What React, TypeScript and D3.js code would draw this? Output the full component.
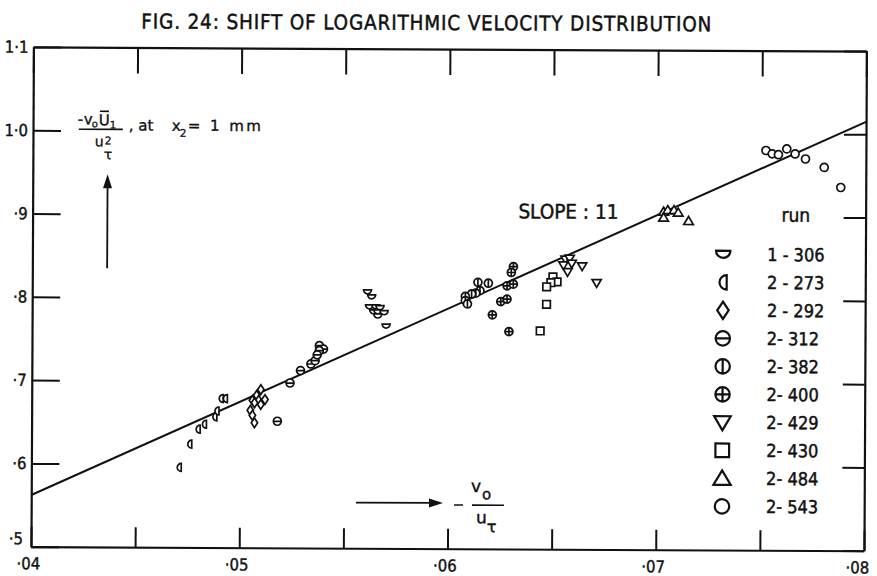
import React, { useEffect, useRef } from 'react';
import * as d3 from 'd3';

// ---------- data ----------
const X_DOMAIN = [0.04, 0.08];
const Y_DOMAIN = [0.5, 1.1];
const X_TICKS = [0.04, 0.045, 0.05, 0.055, 0.06, 0.065, 0.07, 0.075, 0.08];
const X_LABEL_VALUES = [0.04, 0.05, 0.06, 0.07, 0.08];
const X_TICK_LABELS = ['·04', '·05', '·06', '·07', '·08'];
const Y_TICKS = [0.5, 0.6, 0.7, 0.8, 0.9, 1.0, 1.1];
const Y_TICK_LABELS = ['·5', '·6', '·7', '·8', '·9', '1·0', '1·1'];

const RUN_IDS = ['1-306', '2-273', '2-292', '2-312', '2-382', '2-400', '2-429', '2-430', '2-484', '2-543'];
const RUN_LABELS = ['1 - 306', '2 - 273', '2 - 292', '2- 312', '2- 382', '2- 400', '2- 429', '2- 430', '2- 484', '2- 543'];
const RUN_SYMBOLS = ['semiDown', 'semiLeft', 'diamond', 'theta', 'phi', 'oplus', 'triDown', 'square', 'triUp', 'circle'];

const X_1306 = [0.0561, 0.0563, 0.0562, 0.0565, 0.0567, 0.0564, 0.0566, 0.0569, 0.0566, 0.0570];
const Y_1306 = [0.808, 0.802, 0.790, 0.790, 0.789, 0.784, 0.784, 0.783, 0.779, 0.767];
const X_2273 = [0.0471, 0.0476, 0.0480, 0.0483, 0.0488, 0.0489, 0.0491, 0.0493];
const Y_2273 = [0.596, 0.624, 0.642, 0.648, 0.657, 0.664, 0.679, 0.679];
const X_2292 = [0.0510, 0.0508, 0.0506, 0.0509, 0.0512, 0.0510, 0.0507, 0.0505, 0.0506, 0.0507];
const Y_2292 = [0.690, 0.683, 0.677, 0.677, 0.678, 0.672, 0.674, 0.665, 0.659, 0.650];
const X_2312 = [0.0524, 0.0518, 0.0529, 0.0534, 0.0536, 0.0538, 0.0540, 0.0538, 0.0537];
const Y_2312 = [0.698, 0.652, 0.713, 0.721, 0.725, 0.743, 0.739, 0.737, 0.732];
const X_2382 = [0.0614, 0.0619, 0.0615, 0.0613, 0.0611, 0.0608, 0.0608, 0.0609];
const Y_2382 = [0.820, 0.819, 0.810, 0.807, 0.806, 0.803, 0.798, 0.794];
const X_2400 = [0.0631, 0.0630, 0.0628, 0.0631, 0.0625, 0.0628, 0.0621, 0.0629];
const Y_2400 = [0.839, 0.832, 0.816, 0.818, 0.797, 0.800, 0.781, 0.761];
const X_2429 = [0.0656, 0.0658, 0.0659, 0.0655, 0.0657, 0.0664, 0.0671];
const Y_2429 = [0.848, 0.849, 0.843, 0.841, 0.833, 0.840, 0.820];
const X_2430 = [0.0650, 0.0652, 0.0649, 0.0647, 0.0647, 0.0644];
const Y_2430 = [0.827, 0.821, 0.820, 0.815, 0.794, 0.762];
const X_2484 = [0.0703, 0.0705, 0.0708, 0.0710, 0.0703, 0.0715];
const Y_2484 = [0.906, 0.908, 0.908, 0.905, 0.899, 0.895];
const X_2543 = [0.0752, 0.0755, 0.0758, 0.0762, 0.0766, 0.0771, 0.0780, 0.0788];
const Y_2543 = [0.980, 0.976, 0.975, 0.982, 0.976, 0.970, 0.960, 0.936];

const FIT_X = [0.04, 0.08];
const FIT_Y = [0.562, 1.015];

const TITLE = 'FIG. 24: SHIFT OF LOGARITHMIC VELOCITY DISTRIBUTION';
const SLOPE_LABEL = 'SLOPE : 11';
const LEGEND_TITLE = 'run';

const SERIES_X = [X_1306, X_2273, X_2292, X_2312, X_2382, X_2400, X_2429, X_2430, X_2484, X_2543];
const SERIES_Y = [Y_1306, Y_2273, Y_2292, Y_2312, Y_2382, Y_2400, Y_2429, Y_2430, Y_2484, Y_2543];

// ---------- layout ----------
const W = 877;
const H = 576;
const LEFT = 32.2;
const RIGHT = 865.2;
const TOP = 49;
const BOTTOM = 548.7;
const INK = '#111';
const FONT = "'DejaVu Sans Condensed', 'DejaVu Sans', sans-serif";
const FONT_WIDE = "'DejaVu Sans', sans-serif";

function circlePath(r: number) {
  return `M${r},0A${r},${r} 0 1 1 ${-r},0A${r},${r} 0 1 1 ${r},0Z`;
}

function symbolPath(kind: string, r: number): string {
  switch (kind) {
    case 'semiDown':
      return `M${-r},${-r / 2}H${r}A${r},${r} 0 0 1 ${-r},${-r / 2}Z`;
    case 'semiLeft':
      return `M${r / 2},${-r}V${r}A${r},${r} 0 0 1 ${r / 2},${-r}Z`;
    case 'diamond':
      return `M0,${-1.2 * r}L${0.8 * r},0L0,${1.2 * r}L${-0.8 * r},0Z`;
    case 'theta':
      return circlePath(r) + `M${-r},0H${r}`;
    case 'phi':
      return circlePath(r) + `M0,${-r}V${r}`;
    case 'oplus':
      return circlePath(r) + `M${-r},0H${r}M0,${-r}V${r}`;
    case 'triDown':
      return `M${-1.15 * r},${-0.85 * r}H${1.15 * r}L0,${1.1 * r}Z`;
    case 'square':
      return `M${-0.95 * r},${-0.95 * r}h${1.9 * r}v${1.9 * r}h${-1.9 * r}Z`;
    case 'triUp':
      return `M${-1.2 * r},${0.9 * r}H${1.2 * r}L0,${-1.1 * r}Z`;
    default:
      return circlePath(r);
  }
}

export default function App() {
  const bottomRef = useRef<SVGGElement>(null);
  const topRef = useRef<SVGGElement>(null);
  const leftRef = useRef<SVGGElement>(null);
  const rightRef = useRef<SVGGElement>(null);

  const x = d3.scaleLinear().domain(X_DOMAIN).range([LEFT, RIGHT]);
  const y = d3.scaleLinear().domain(Y_DOMAIN).range([BOTTOM, TOP]);

  const xLabel = (d: number) => {
    const i = X_LABEL_VALUES.findIndex((v) => Math.abs(v - d) < 1e-9);
    return i >= 0 ? X_TICK_LABELS[i] : '';
  };
  const yLabel = (d: number) => {
    const i = Y_TICKS.findIndex((v) => Math.abs(v - d) < 1e-9);
    return i >= 0 ? Y_TICK_LABELS[i] : '';
  };

  useEffect(() => {
    const style = (g: d3.Selection<SVGGElement, unknown, null, undefined>) => {
      g.attr('font-family', FONT).attr('font-size', 16.5);
      g.selectAll('path.domain').attr('stroke', INK).attr('stroke-width', 2.2);
      g.selectAll('.tick line').attr('stroke', INK).attr('stroke-width', 2);
      g.selectAll('text').attr('fill', INK).attr('stroke', INK).attr('stroke-width', 0.4);
    };
    const b = d3.select(bottomRef.current!);
    b.call(
      d3.axisBottom(x).tickValues(X_TICKS).tickSize(-20).tickSizeOuter(0).tickPadding(11).tickFormat((d) => xLabel(+d))
    );
    b.selectAll<SVGTextElement, number>('text').attr('dx', (d) => (Math.abs(d - 0.08) < 1e-9 ? -7 : -3));
    style(b);

    const t = d3.select(topRef.current!);
    t.call(d3.axisTop(x).tickValues(X_TICKS).tickSize(-26).tickSizeOuter(0).tickFormat(() => ''));
    style(t);

    const l = d3.select(leftRef.current!);
    l.call(d3.axisLeft(y).tickValues(Y_TICKS).tickSize(-28).tickSizeOuter(0).tickPadding(5).tickFormat((d) => yLabel(+d)));
    l.selectAll<SVGTextElement, number>('text').filter((d) => Math.abs(d - 0.5) < 1e-9).attr('y', -8).attr('x', -8);
    style(l);

    const r = d3.select(rightRef.current!);
    r.call(d3.axisRight(y).tickValues(Y_TICKS).tickSize(-22).tickSizeOuter(0).tickFormat(() => ''));
    style(r);
  }, []);

  const line = d3
    .line<number>()
    .x((d) => x(d))
    .y((_, i) => y(FIT_Y[i]));

  const legendTop = 253;
  const legendStep = 28;
  const textInk = { fill: INK, stroke: INK, strokeWidth: 0.45 };

  return (
    <svg width={W} height={H} style={{ position: 'absolute', left: 0, top: 0, background: '#fff' }}>
      <rect width={W} height={H} fill="#fff" />
      <g transform="rotate(0.28, 448.7, 298.85)">
        <text x={140} y={30} fontFamily={FONT} fontSize={20.5} textLength={570} lengthAdjust="spacing" {...textInk}>
          {TITLE}
        </text>

        <path d={line(FIT_X) || ''} fill="none" stroke={INK} strokeWidth={2} />

        <g ref={bottomRef} transform={`translate(0,${BOTTOM})`} />
        <g ref={topRef} transform={`translate(0,${TOP})`} />
        <g ref={leftRef} transform={`translate(${LEFT},0)`} />
        <g ref={rightRef} transform={`translate(${RIGHT},0)`} />

        {SERIES_X.map((xs, si) =>
          xs.map((xv, i) => (
            <path
              key={`${RUN_IDS[si]}-${i}`}
              d={symbolPath(RUN_SYMBOLS[si], 4)}
              transform={`translate(${x(xv)},${y(SERIES_Y[si][i])})`}
              fill="#fff"
              stroke={INK}
              strokeWidth={1.7}
            />
          ))
        )}

        {/* slope label */}
        <text x={518} y={218} fontFamily={FONT} fontSize={20} textLength={100} lengthAdjust="spacingAndGlyphs" {...textInk}>
          {SLOPE_LABEL}
        </text>

        {/* legend */}
        <text x={781} y={220} fontFamily={FONT} fontSize={19} {...textInk}>
          {LEGEND_TITLE}
        </text>
        {RUN_IDS.map((id, i) => (
          <g key={id} transform={`translate(0,${legendTop + i * legendStep})`}>
            <path d={symbolPath(RUN_SYMBOLS[i], 7.2)} transform="translate(723,0)" fill="#fff" stroke={INK} strokeWidth={2.2} />
            <text x={767} y={6.5} fontFamily={FONT} fontSize={18} {...textInk}>
              {RUN_LABELS[i]}
            </text>
          </g>
        ))}

        {/* y-axis label */}
        <g fontFamily={FONT_WIDE} {...textInk} strokeWidth={0.35}>
          <text x={77} y={126} fontSize={15}>-</text>
          <text x={83} y={126} fontSize={15}>v</text>
          <text x={91} y={129} fontSize={10}>o</text>
          <text x={98} y={127} fontSize={15}>U</text>
          <text x={109} y={130} fontSize={10}>1</text>
          <text x={94} y={148} fontSize={14}>u</text>
          <text x={104} y={146} fontSize={10.5}>2</text>
          <text x={103} y={161} fontSize={14}>τ</text>
          <text x={128} y={132} fontSize={15}>, at</text>
          <text x={171} y={132} fontSize={15}>x</text>
          <text x={179} y={138} fontSize={10.5}>2</text>
          <text x={187} y={132} fontSize={15} textLength={73} lengthAdjust="spacing">= 1 mm</text>
        </g>
        <line x1={99} x2={108} y1={113} y2={113} stroke={INK} strokeWidth={1.6} />
        <line x1={78} x2={122} y1={131} y2={131} stroke={INK} strokeWidth={1.6} />
        <line x1={107} x2={107} y1={270} y2={186} stroke={INK} strokeWidth={1.8} />
        <path d="M107,176L102.5,190L111.5,190Z" fill={INK} />

        {/* x-axis label */}
        <line x1={357} x2={434} y1={503} y2={503} stroke={INK} strokeWidth={1.8} />
        <path d="M444,503L430,498.5L430,507.5Z" fill={INK} />
        <line x1={455} x2={464} y1={505} y2={505} stroke={INK} strokeWidth={1.6} />
        <line x1={473} x2={505} y1={505} y2={505} stroke={INK} strokeWidth={1.6} />
        <g fontFamily={FONT_WIDE} {...textInk} strokeWidth={0.4}>
          <text x={472} y={492} fontSize={17}>v</text>
          <text x={483} y={499} fontSize={15}>o</text>
          <text x={477} y={523} fontSize={17}>u</text>
          <text x={488} y={532} fontSize={16}>τ</text>
        </g>
      </g>
    </svg>
  );
}
